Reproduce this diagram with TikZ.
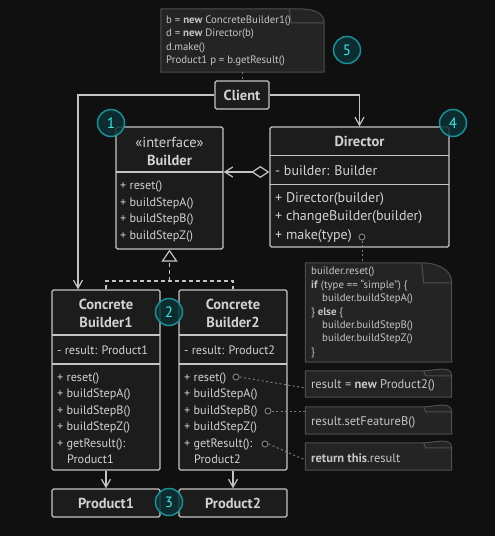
\documentclass[tikz,border=0pt]{standalone}
\usepackage{fontspec}
\setmainfont{PT Sans}
\usetikzlibrary{arrows.meta}
\definecolor{bg}{HTML}{101010}
\definecolor{boxfill}{HTML}{1C1C1C}
\definecolor{boxline}{HTML}{C4C4C4}
\definecolor{fg}{HTML}{D2D2D2}
\definecolor{notefill}{HTML}{242424}
\definecolor{noteline}{HTML}{4E4E4E}
\definecolor{notetext}{HTML}{C6C6C6}
\definecolor{dotc}{HTML}{7C7C7C}
\definecolor{numfill}{HTML}{0C3236}
\definecolor{numline}{HTML}{1C8F98}
\definecolor{numtext}{HTML}{45E2E6}
\newcommand\dogear[3]{%
  \draw[notestyle] (#1.north west) -- ([xshift=-#2pt]#1.north east) to[out=0,in=90] ([yshift=-#3pt]#1.north east) -- (#1.south east) -- (#1.south west) -- cycle;
  \draw[notestyle,fill=none] ([xshift=-#2pt]#1.north east) -- ([xshift={-#2pt+2pt},yshift=-#3pt]#1.north east) -- ([yshift=-#3pt]#1.north east);
}
\begin{document}
\begin{tikzpicture}[x=1pt,y=-1pt,
  box/.style={draw=boxline,fill=boxfill,line width=1.3pt,rounded corners=1.5pt,inner sep=0,text=fg},
  divl/.style={draw=boxline,line width=1.3pt},
  txt/.style={text=fg,inner sep=0,align=left,font=\fontsize{12.2}{16.5}\selectfont},
  dtxt/.style={text=fg,inner sep=0,align=left,font=\fontsize{14}{18.5}\selectfont},
  btxt/.style={text=fg,inner sep=0,align=center,font=\fontsize{14.5}{18}\selectfont\bfseries},
  bfont/.style={font=\fontsize{14.5}{14.5}\selectfont\bfseries},
  notefr/.style={inner sep=0},
  notestyle/.style={draw=noteline,fill=notefill,line width=1pt},
  ntxt/.style={text=notetext,inner sep=0,align=left,font=\fontsize{10.8}{13.4}\selectfont},
  stxt/.style={text=notetext,inner sep=0,align=left,font=\fontsize{12.5}{13}\selectfont},
  con/.style={draw=boxline,line width=1.2pt},
  arr/.style={con,-{Straight Barb[length=8pt,width=9pt]}},
  dotcon/.style={draw=dotc,line width=1pt,dash pattern=on 2pt off 2.5pt},
  pinc/.style={circle,draw=dotc,fill=bg,line width=1pt,minimum size=6pt,inner sep=0},
  numc/.style={circle,draw=numline,line width=1.5pt,fill=numfill,fill opacity=0.85,text opacity=1,text=numtext,minimum size=27pt,inner sep=0,font=\fontsize{15}{15}\selectfont}
]
\fill[bg] (0,0) rectangle (495,536);
\useasboundingbox (0,0) rectangle (495,536);

% top note
\node[notefr,minimum width=163pt,minimum height=63pt] (note0) at (242.5,40.5) {};
\dogear{note0}{35}{14}
\node[ntxt,anchor=west] (note0t) at (166,41) {b = \textbf{new} ConcreteBuilder1()\\d = \textbf{new} Director(b)\\d.make()\\Product1 p = b.getResult()};

% client
\node[box,bfont,minimum width=54pt,minimum height=28pt] (client) at (242,95) {Client};

% builder
\node[box,minimum width=107pt,minimum height=122pt] (builder) at (169.5,188) {};
\draw[divl] (116,172) -- (223,172);
\node[btxt,font=\fontsize{14.5}{18}\selectfont] (builderh) at (169.5,151) {«interface»\\\textbf{Builder}};
\node[txt,anchor=west] (builderm) at (120,211.5) {+ reset()\\+ buildStepA()\\+ buildStepB()\\+ buildStepZ()};

% director
\node[box,minimum width=179pt,minimum height=120pt] (director) at (359.5,187) {};
\draw[divl] (270,155.5) -- (449,155.5);
\draw[divl] (270,184.5) -- (449,184.5);
\node[btxt] (directorh) at (359.5,141.5) {Director};
\node[dtxt,anchor=west] (directorf) at (275,170.5) {- builder: Builder};
\node[dtxt,anchor=west] (directorm) at (275,217.5) {+ Director(builder)\\+ changeBuilder(builder)\\+ make(type)};
\node[pinc] (mk) at (362,237) {};

% note 2
\node[notefr,minimum width=146pt,minimum height=99pt] (note2) at (378.5,312.5) {};
\dogear{note2}{30}{20}
\node[ntxt,anchor=west] (note2t) at (311,312.5) {builder.reset()\\\textbf{if} (type == “simple”) \{\\\hspace*{11pt}builder.buildStepA()\\\} \textbf{else} \{\\\hspace*{11pt}builder.buildStepB()\\\hspace*{11pt}builder.buildStepZ()\\\}};

% concrete builders
\node[box,minimum width=108pt,minimum height=180pt] (cb1) at (106,380) {};
\draw[divl] (52,335) -- (160,335);
\draw[divl] (52,364) -- (160,364);
\node[btxt] (cb1h) at (106,313) {Concrete\\Builder1};
\node[txt,anchor=west] (cb1f) at (57,350) {- result: Product1};
\node[txt,anchor=west] (cb1m) at (57,418) {+ reset()\\+ buildStepA()\\+ buildStepB()\\+ buildStepZ()\\+ getResult():\\\hspace*{10pt}Product1};

\node[box,minimum width=108pt,minimum height=180pt] (cb2) at (233,380) {};
\draw[divl] (179,335) -- (287,335);
\draw[divl] (179,364) -- (287,364);
\node[btxt] (cb2h) at (233,313) {Concrete\\Builder2};
\node[txt,anchor=west] (cb2f) at (184,350) {- result: Product2};
\node[txt,anchor=west] (cb2m) at (184,418) {+ reset()\\+ buildStepA()\\+ buildStepB()\\+ buildStepZ()\\+ getResult():\\\hspace*{10pt}Product2};
\node[pinc] (pr) at (236,377) {};
\node[pinc] (pb) at (268,411) {};
\node[pinc] (pg) at (265,444) {};

% small notes
\node[notefr,minimum width=146pt,minimum height=26pt] (sn1) at (378.5,384) {};
\dogear{sn1}{28}{5}
\node[stxt,anchor=west] (sn1t) at (311,385) {result = \textbf{new} Product2()};
\node[notefr,minimum width=146pt,minimum height=27pt] (sn2) at (378.5,420.5) {};
\dogear{sn2}{28}{5}
\node[stxt,anchor=west] (sn2t) at (311,422) {result.setFeatureB()};
\node[notefr,minimum width=146pt,minimum height=27pt] (sn3) at (378.5,456.5) {};
\dogear{sn3}{28}{5}
\node[stxt,anchor=west] (sn3t) at (311,458) {\textbf{return this}.result};

% products
\node[box,bfont,minimum width=108pt,minimum height=28pt] (p1) at (106,503) {Product1};
\node[box,bfont,minimum width=108pt,minimum height=28pt] (p2) at (233,503) {Product2};

% connectors
\draw[arr] (client.west) -| ([xshift=-28pt]cb1.north);
\draw[arr] (client.east) -| (director.north);
\coordinate (ag) at (0,172);
\draw[con,{Diamond[open,length=18pt,width=12pt]}-{Straight Barb[length=8pt,width=10pt]}] (director.west |- ag) -- (builder.east |- ag);
\coordinate (inh) at (169.5,281);
\draw[con,dash pattern=on 4pt off 3pt] (cb1.north) |- (inh) -| (cb2.north);
\draw[con,dash pattern=on 4pt off 3pt,-{Triangle[open,length=12pt,width=16pt]}] (inh) -- (builder.south);
\draw[arr] (cb1.south) -- (p1.north);
\draw[arr] (cb2.south) -- (p2.north);
\draw[dotcon] (client.north |- note0.south) -- (client.north);
\draw[dotcon] (mk.south) -- (mk.south |- note2.north);
\draw[dotcon] (pr.east) -- ([yshift=-4pt]sn1.west);
\draw[dotcon] (pb.east) -- (pb.east -| sn2.west);
\draw[dotcon] (pg.east) -- ([yshift=-3.5pt]sn3.west);

% numbers
\node[numc] (n1) at (111,123) {1};
\node[numc] (n2) at (169,312) {2};
\node[numc] (n3) at (169,502) {3};
\node[numc] (n4) at (453,123) {4};
\node[numc] (n5) at (347,50) {5};
\end{tikzpicture}
\end{document}
